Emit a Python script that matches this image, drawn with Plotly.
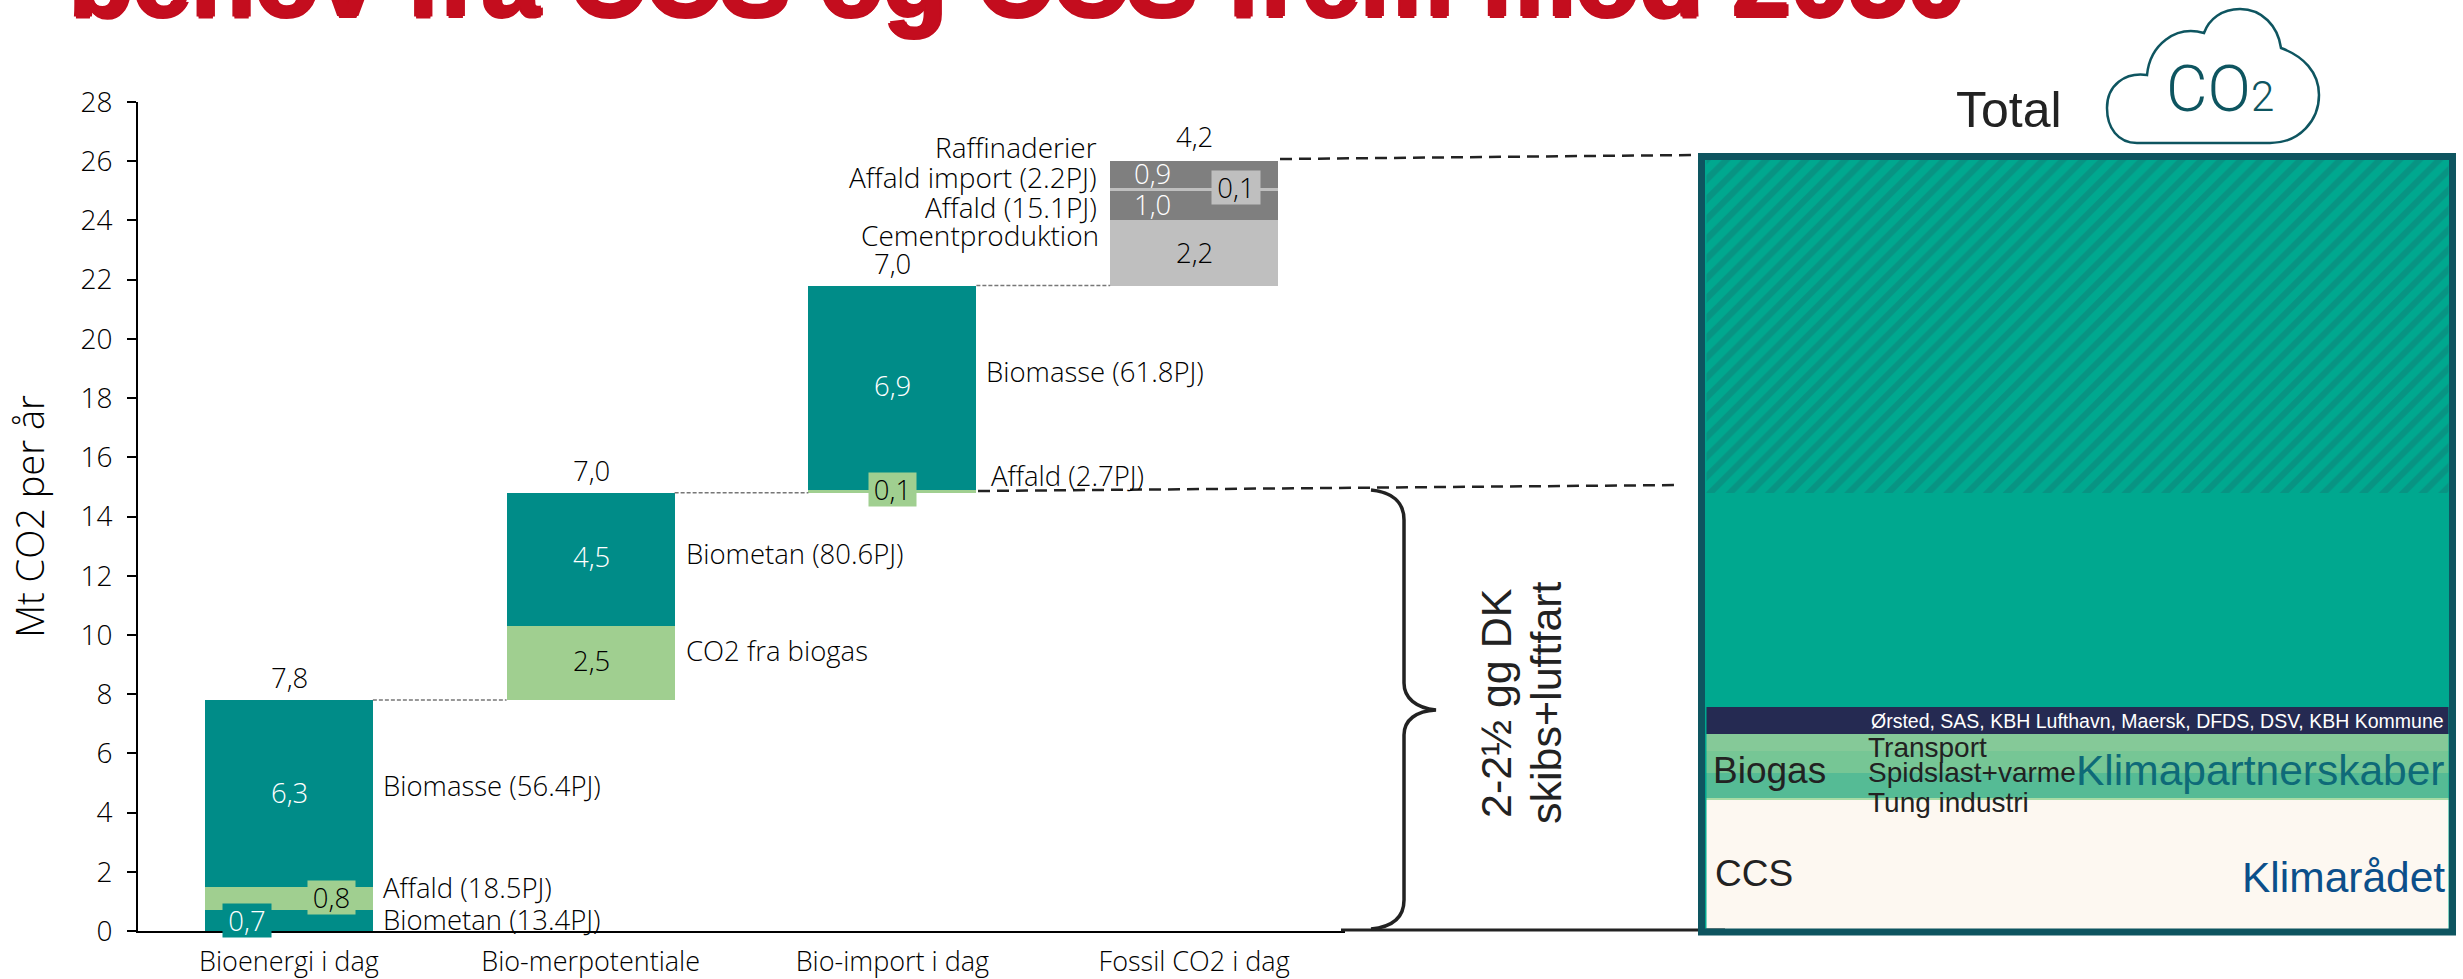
import plotly.graph_objects as go

W, H = 2463, 979

# Stacked bars: each category sits on the running total of those before it
categories = ["Bioenergi i dag", "Bio-merpotentiale", "Bio-import i dag", "Fossil CO2 i dag"]
bioenergi = [0.7, 0.8, 6.3]
merpotentiale = [2.5, 4.5]
bioimport = [0.1, 6.9]
fossil = [2.2, 1.0, 0.1, 0.9]
tick_values = list(range(0, 29, 2))

# Total budget column on the right, from the bottom up
total_names = ["CCS", "Kant", "Tung industri", "Spidslast+varme", "Transport", "Klimapartnerskaber", "Rest", "Fossil"]
total_values = [4.43, 0.07, 0.85, 0.74, 0.58, 0.90, 7.23, 11.3]

TEAL = "#008c88"
GREEN = "#a0cf90"
GREY_L = "#bfbfbf"
GREY_D = "#7f7f7f"
BORDER = "#0e5560"
BOX_TEAL = "#00a88f"
INK = "#000000"
DARK = "#222222"
ARIAL = "Liberation Sans"
BODY = "Open Sans"

segment_colors = [
    [TEAL, GREEN, TEAL],
    [GREEN, TEAL],
    [GREEN, TEAL],
    [GREY_L, GREY_D, GREY_L, GREY_D],
]
total_colors = ["#fdf8f1", "#a8dba5", "#55bb95", "#76c695", "#85c998", "#252a52", BOX_TEAL, BOX_TEAL]


def px(x):
    return x / W


def py(y):
    return 1 - y / H


def comma(v):
    return f"{v:.1f}".replace(".", ",")


fig = go.Figure()

BAR_W = 168 / 301.75
base = 0.0
tops = []
for i, segs in enumerate([bioenergi, merpotentiale, bioimport, fossil]):
    for v, c in zip(segs, segment_colors[i]):
        fig.add_trace(go.Bar(x=[i], y=[v], base=[base], width=BAR_W, marker=dict(color=c, line=dict(width=0)),
                             showlegend=False, hoverinfo="y"))
        base += v
    tops.append(base)

# Thin dashed connectors between neighbouring bars
for i in range(3):
    fig.add_trace(go.Scatter(x=[i + BAR_W / 2, i + 1 - BAR_W / 2], y=[tops[i], tops[i]], mode="lines",
                             line=dict(color="#777777", width=1.5, dash="4px,2px"),
                             showlegend=False, hoverinfo="skip"))

# Total column on its own x axis, sharing the value axis
base = 0.0
for name, v, c in zip(total_names, total_values, total_colors):
    marker = dict(color=c, line=dict(width=0))
    if name == "Fossil":
        marker["pattern"] = dict(shape="/", fgcolor="#0f8078", bgcolor=BOX_TEAL, size=14, solidity=0.45)
    fig.add_trace(go.Bar(x=[0.5], y=[v], base=[base], width=1, marker=marker, name=name,
                         xaxis="x2", yaxis="y", showlegend=False, hoverinfo="name+y"))
    base += v

annotations = []


def note(text, x, y, size=27.5, color=INK, anchor="center", family=BODY, weight=300, bg=None, angle=0, w=None, h=None, shadow=None):
    font = dict(size=size, color=color, family=family, weight=weight)
    if shadow:
        font["shadow"] = shadow
    a = dict(text=text, x=px(x), y=py(y), xref="paper", yref="paper", xanchor=anchor, yanchor="middle",
             showarrow=False, font=font, textangle=angle, borderpad=0)
    if bg:
        a["bgcolor"] = bg
    if w:
        a["width"] = w
    if h:
        a["height"] = h
    annotations.append(a)


# Running totals over the bars
note(comma(sum(bioenergi)), 289, 677)
note(comma(sum(merpotentiale)), 591, 470)
note(comma(sum(bioimport)), 892, 263)
note(comma(sum(fossil)), 1194, 137)

# Segment values
note(comma(bioenergi[0]), 247, 920, color="white", bg=TEAL, w=48, h=33)
note(comma(bioenergi[1]), 331, 897, bg=GREEN, w=47, h=33)
note(comma(bioenergi[2]), 289, 792, color="white")
note(comma(merpotentiale[0]), 591, 660)
note(comma(merpotentiale[1]), 591, 556, color="white")
note(comma(bioimport[0]), 892, 490, bg=GREEN, w=47, h=33)
note(comma(bioimport[1]), 892, 385, color="white")
note(comma(fossil[0]), 1194, 252)
note(comma(fossil[1]), 1152, 204, color="white")
note(comma(fossil[2]), 1236, 188, bg=GREY_L, w=48, h=33)
note(comma(fossil[3]), 1152, 173, color="white")

# Segment names
note("Biomasse (56.4PJ)", 382, 785, anchor="left")
note("Affald (18.5PJ)", 382, 887, anchor="left")
note("Biometan (13.4PJ)", 382, 919, anchor="left")
note("Biometan (80.6PJ)", 685, 553, anchor="left")
note("CO2 fra biogas", 685, 650, anchor="left")
note("Biomasse (61.8PJ)", 985, 371, anchor="left")
note("Affald (2.7PJ)", 990, 475, anchor="left")
note("Raffinaderier", 1098, 147, anchor="right", size=28)
note("Affald import (2.2PJ)", 1098, 177, anchor="right", size=28)
note("Affald (15.1PJ)", 1098, 207, anchor="right", size=28)
note("Cementproduktion", 1100, 235, anchor="right", size=28)

# Headline running off the top of the slide
RED = "#c40d1e"
note("behov fra CCS og CCS frem mod 2050", 68, -21, size=104.7, color=RED, anchor="left", family=ARIAL, weight=700,
     shadow=f"2px 0 0 {RED}, -2px 0 0 {RED}, 0 2px 0 {RED}, 0 -2px 0 {RED}")

# Brace caption
note("2-2½ gg DK", 1496, 703, size=43, color=DARK, family=ARIAL, weight=400, angle=-90)
note("skibs+luftfart", 1546, 703, size=43, color=DARK, family=ARIAL, weight=400, angle=-90)

# Total column texts
note("Total", 2009, 110, size=50, color=DARK, family=ARIAL, weight=400)
note("CO<span style='font-size:42px'>2</span>", 2220, 90, size=64, color=BORDER, family="Roboto", weight=300)
note("Ørsted, SAS, KBH Lufthavn, Maersk, DFDS, DSV, KBH Kommune", 2445, 721, size=19.5, color="white", anchor="right", family=ARIAL, weight=400)
note("Biogas", 1712, 770, size=37, color=DARK, anchor="left", family=ARIAL, weight=400)
note("Transport", 1867, 747, size=28, color=DARK, anchor="left", family=ARIAL, weight=400)
note("Spidslast+varme", 1867, 772, size=28, color=DARK, anchor="left", family=ARIAL, weight=400)
note("Tung industri", 1867, 802, size=28, color=DARK, anchor="left", family=ARIAL, weight=400)
note("Klimapartnerskaber", 2446, 770, size=42.5, color="#0e6a78", anchor="right", family=ARIAL, weight=400)
note("CCS", 1714, 873, size=37, color=DARK, anchor="left", family=ARIAL, weight=400)
note("Klimarådet", 2446, 877, size=42.5, color="#0b4f8a", anchor="right", family=ARIAL, weight=400)


def pline(x0, y0, x1, y1, **line):
    return dict(type="line", xref="paper", yref="paper", x0=px(x0), y0=py(y0), x1=px(x1), y1=py(y1), line=line, layer="above")


def ppath(points, **line):
    # Path commands with pixel positions converted to paper fractions
    out = []
    for cmd, coords in points:
        pairs = [f"{px(coords[k]):.5f},{py(coords[k + 1]):.5f}" for k in range(0, len(coords), 2)]
        out.append(cmd + " ".join(pairs))
    return dict(type="path", xref="paper", yref="paper", path=" ".join(out), line=line, layer="above")


shapes = [
    pline(978, 491, 1680, 485, color=DARK, width=2.5, dash="12px,7px"),
    pline(1280, 159, 1692, 155, color=DARK, width=2.5, dash="12px,7px"),
    pline(1341, 930, 1725, 930, color=DARK, width=3),
    # Curly brace spanning the lower part of the scale
    ppath([("M", [1371, 490]), ("C", [1392, 492, 1404, 502, 1404, 520]), ("L", [1404, 683]),
           ("C", [1404, 698, 1416, 708, 1436, 710]), ("C", [1416, 711, 1404, 720, 1404, 735]),
           ("L", [1404, 900]), ("C", [1404, 918, 1392, 927, 1371, 929])], color=DARK, width=3.5),
    # Frame of the total column
    dict(type="rect", xref="paper", yref="paper", x0=px(1705.5), x1=px(2449.5), y0=py(931.5), y1=py(157),
         line=dict(color=BOX_TEAL, width=2), layer="above"),
    dict(type="rect", xref="paper", yref="paper", x0=px(1701.5), x1=px(2452.5), y0=py(932), y1=py(156.5),
         line=dict(color=BORDER, width=7), layer="above"),
    # Cloud outline
    ppath([("M", [2137, 143]), ("L", [2270, 143]), ("C", [2300, 143, 2319, 120, 2319, 95]),
           ("C", [2319, 72, 2303, 56, 2281, 48]), ("C", [2278, 26, 2262, 9, 2240, 9]),
           ("C", [2222, 9, 2209, 19, 2204, 33]), ("C", [2175, 25, 2150, 45, 2147, 75]),
           ("C", [2125, 72, 2107, 85, 2107, 108]), ("C", [2107, 128, 2118, 143, 2137, 143])],
          color=BORDER, width=2.5),
]

fig.update_layout(
    width=W, height=H, autosize=False,
    margin=dict(l=0, r=0, t=0, b=0, pad=0),
    paper_bgcolor="white", plot_bgcolor="white",
    barmode="overlay", bargap=0,
    hovermode=False,
    xaxis=dict(domain=[px(138), px(1345)], range=[-0.5, 3.5], tickmode="array", tickvals=[0, 1, 2, 3], ticktext=categories,
               showgrid=False, zeroline=False, showline=True, linecolor=INK, linewidth=2, automargin=False,
               ticks="", ticklabelstandoff=6, tickfont=dict(family=BODY, size=27, color=INK, weight=300)),
    yaxis=dict(domain=[py(931), py(102)], range=[0, 28], tickmode="array", tickvals=tick_values, showgrid=False, zeroline=False,
               showline=True, linecolor=INK, linewidth=2, ticks="outside", ticklen=9, tickwidth=2, tickcolor=INK, automargin=False,
               ticklabelstandoff=9, tickfont=dict(family=BODY, size=28, color=INK, weight=300),
               title=dict(text="Mt CO2 per år", font=dict(family=BODY, size=38, color=INK, weight=300), standoff=24)),
    xaxis2=dict(domain=[px(1705), px(2450)], range=[0, 1], anchor="y", visible=False, automargin=False),
    annotations=annotations,
    shapes=shapes,
)

fig.write_html("out.html")
